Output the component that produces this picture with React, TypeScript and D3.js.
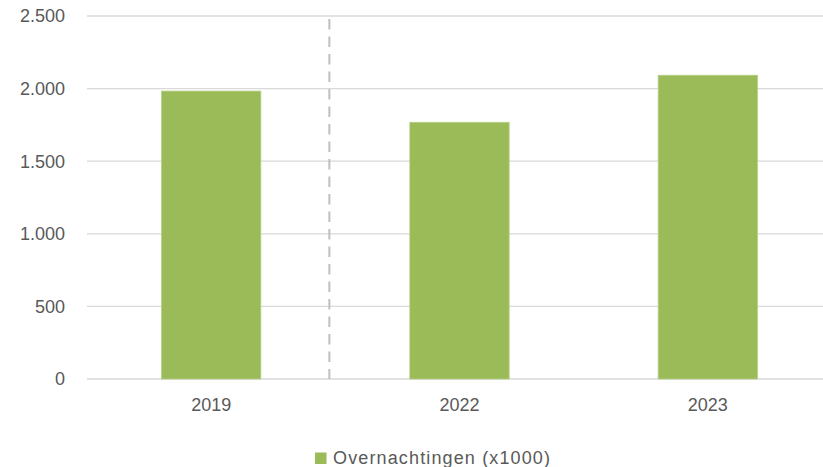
import { useRef, useEffect } from "react";
import * as d3 from "d3";

const years = ["2019", "2022", "2023"];
const overnachtingen = [1983, 1768, 2092];
const yTicks = [0, 500, 1000, 1500, 2000, 2500];
const legendLabel = "Overnachtingen (x1000)";

export default function App() {
  const ref = useRef<SVGSVGElement>(null);

  useEffect(() => {
    const svg = d3.select(ref.current);
    svg.selectAll("*").remove();

    const width = 823,
      height = 467;
    const plot = { left: 87, right: 832, top: 16, bottom: 379 };
    const font = "'Liberation Sans', Arial, sans-serif";

    const x = d3
      .scaleBand<string>()
      .domain(years)
      .range([plot.left, plot.right])
      .paddingInner(0.6)
      .paddingOuter(0.3);
    const y = d3.scaleLinear().domain([0, 2500]).range([plot.bottom, plot.top]);

    // gridlines
    svg
      .append("g")
      .selectAll("line")
      .data(yTicks)
      .join("line")
      .attr("x1", plot.left)
      .attr("x2", width)
      .attr("y1", (d) => y(d))
      .attr("y2", (d) => y(d))
      .attr("stroke", "#d9d9d9")
      .attr("stroke-width", 1.3);

    // y labels
    svg
      .append("g")
      .selectAll("text")
      .data(yTicks)
      .join("text")
      .attr("x", 65)
      .attr("y", (d) => y(d))
      .attr("dy", "0.35em")
      .attr("text-anchor", "end")
      .attr("font-family", font)
      .attr("font-size", 18)
      .attr("fill", "#595959")
      .text((d) => d3.format(",")(d).replace(/,/g, "."));

    // dashed separator between 2019 and 2022
    const sepX = x("2019")! + x.step() * 0.676;
    svg
      .append("line")
      .attr("x1", sepX)
      .attr("x2", sepX)
      .attr("y1", y(2500) + 3)
      .attr("y2", y(0))
      .attr("stroke", "#bfbfbf")
      .attr("stroke-width", 2)
      .attr("stroke-dasharray", "10.5,7");

    // bars
    svg
      .append("g")
      .selectAll("rect")
      .data(years)
      .join("rect")
      .attr("x", (d) => x(d)!)
      .attr("width", x.bandwidth())
      .attr("y", (d, i) => y(overnachtingen[i]))
      .attr("height", (d, i) => y(0) - y(overnachtingen[i]))
      .attr("fill", "#9bbb59")
      .attr("stroke", "#b5cf85")
      .attr("stroke-width", 0.8);

    // x labels
    svg
      .append("g")
      .selectAll("text")
      .data(years)
      .join("text")
      .attr("x", (d) => x(d)! + x.bandwidth() / 2)
      .attr("y", 405)
      .attr("dy", "0.35em")
      .attr("text-anchor", "middle")
      .attr("font-family", font)
      .attr("font-size", 18)
      .attr("fill", "#595959")
      .text((d) => d);

    // legend
    const lg = svg.append("g");
    lg.append("rect")
      .attr("x", 315)
      .attr("y", 452.5)
      .attr("width", 11.5)
      .attr("height", 11.5)
      .attr("fill", "#9bbb59");
    lg.append("text")
      .attr("x", 333)
      .attr("y", 458)
      .attr("dy", "0.35em")
      .attr("font-family", font)
      .attr("font-size", 18)
      .attr("fill", "#595959")
      .attr("textLength", 217)
      .text(legendLabel);

    svg.attr("width", width).attr("height", height);
  }, []);

  return (
    <svg
      ref={ref}
      width={823}
      height={467}
      style={{ position: "absolute", left: 0, top: 0, background: "#fff" }}
    />
  );
}
